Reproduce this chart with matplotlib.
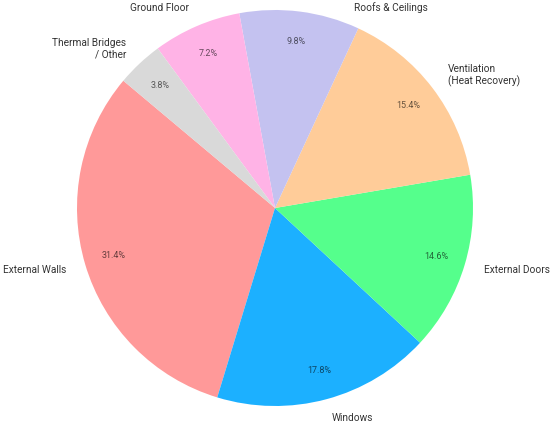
import matplotlib
matplotlib.use("Agg")
import matplotlib.pyplot as plt
import matplotlib.colors as mcolors

plt.rcParams['font.family'] = ['Roboto', 'DejaVu Sans']

# data
labels = ["External Walls", "Windows", "External Doors", "Ventilation\n(Heat Recovery)",
          "Roofs & Ceilings", "Ground Floor", "Thermal Bridges\n/ Other"]
shares = [31.4, 17.8, 14.6, 15.4, 9.8, 7.2, 3.8]
colors = ["#ff9999", "#1cb0ff", "#55ff8c", "#ffcc99", "#c4c2f0", "#ffb3e6", "#d9d9d9"]

fig = plt.figure(figsize=(5.5, 4.28), dpi=100)
ax = fig.add_axes([0, 0, 1, 1])

wedges, texts, autotexts = ax.pie(shares, labels=labels, colors=colors, startangle=140,
                                  autopct="%1.1f%%", pctdistance=0.85, labeldistance=1.1,
                                  wedgeprops=dict(linewidth=0),
                                  textprops=dict(fontsize=7.3, color="#333333"))

# percent labels in a darker tone of their slice
for t, c in zip(autotexts, colors):
    r, g, b = mcolors.to_rgb(c)
    t.set_color((r * 0.4, g * 0.4, b * 0.4))
    t.set_fontsize(6.5)

# the roofs label sits beside the top of the pie, not above it
texts[4].set_position((0.40, 1.01))
texts[4].set_ha("left")

# place pie: centre at (275, 208) px, radius 198 px
ax.set_xlim(-275 / 198, 275 / 198)
ax.set_ylim(-220 / 198, 208 / 198)
ax.set_aspect('auto')

fig.savefig("out.png", dpi=100)
